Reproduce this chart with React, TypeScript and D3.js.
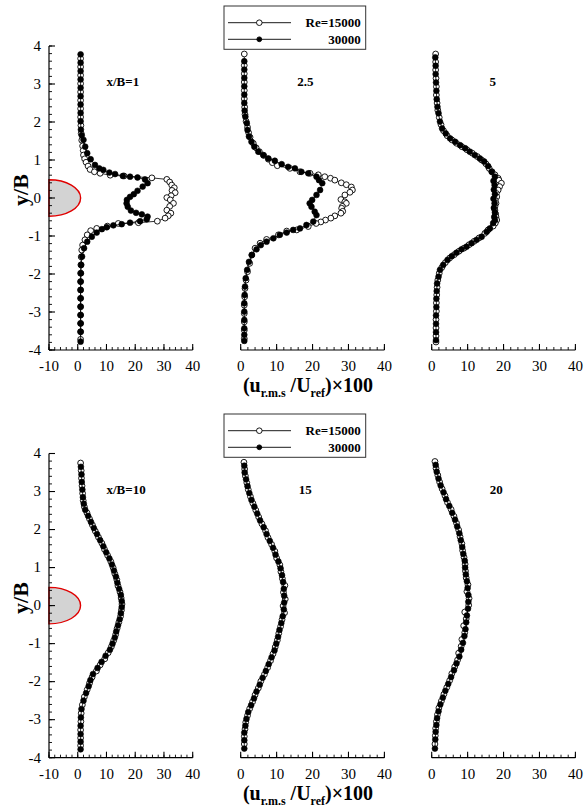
import React from "react";
import * as d3 from "d3";

type Pt = [number, number]; // [y/B, (u_rms/U_ref)x100]

// ---------- x/B = 1 ----------
const re15000_xB1: Pt[] = [
  [3.67, 1.0], [3.45, 1.0], [3.23, 1.0], [3.01, 1.0], [2.79, 1.0], [2.57, 1.0], [2.35, 1.0], [2.13, 1.0],
  [1.91, 1.1], [1.70, 1.2], [1.52, 1.4], [1.37, 1.7], [1.25, 1.9], [1.13, 2.0], [1.03, 2.4], [0.94, 2.9],
  [0.84, 3.6], [0.75, 4.3], [0.69, 5.8], [0.65, 7.8], [0.60, 11.3], [0.58, 16.1], [0.53, 25.8], [0.49, 31.0],
  [0.42, 32.0], [0.34, 32.7], [0.27, 33.6], [0.20, 32.8], [0.14, 33.9], [0.06, 32.5], [0.01, 31.0], [-0.05, 32.2],
  [-0.14, 33.3], [-0.22, 32.0], [-0.32, 31.0], [-0.40, 32.4], [-0.47, 31.5], [-0.53, 30.4], [-0.61, 27.7],
  [-0.65, 21.1], [-0.67, 14.1], [-0.74, 10.3], [-0.80, 6.6], [-0.86, 4.5], [-0.97, 3.3], [-1.10, 2.5],
  [-1.24, 1.7], [-1.37, 1.4], [-1.55, 1.2], [-1.76, 1.1], [-1.98, 1.0], [-2.20, 1.0], [-2.42, 1.0],
  [-2.64, 1.0], [-2.86, 1.0], [-3.08, 1.0], [-3.30, 1.0], [-3.52, 1.0], [-3.72, 1.0],
];
const re30000_xB1: Pt[] = [
  [3.78, 1.0], [3.56, 1.0], [3.34, 1.0], [3.12, 1.0], [2.90, 1.0], [2.68, 1.0], [2.46, 1.0], [2.24, 1.0],
  [2.02, 1.0], [1.80, 1.1], [1.65, 1.4], [1.53, 2.0], [1.35, 2.6], [1.18, 3.3], [1.02, 4.5], [0.87, 6.0],
  [0.78, 7.5], [0.74, 8.9], [0.67, 11.0], [0.63, 13.0], [0.58, 15.7], [0.56, 18.2], [0.54, 20.8], [0.49, 23.4],
  [0.39, 24.3], [0.30, 22.6], [0.19, 20.8], [0.10, 19.5], [0.03, 18.2], [-0.05, 17.1], [-0.14, 17.0],
  [-0.23, 17.4], [-0.33, 18.5], [-0.39, 20.3], [-0.43, 22.3], [-0.49, 24.3], [-0.56, 24.0], [-0.61, 21.7],
  [-0.65, 18.2], [-0.69, 15.3], [-0.72, 12.4], [-0.77, 10.1], [-0.82, 8.4], [-0.91, 6.6], [-1.02, 4.9],
  [-1.15, 3.3], [-1.32, 2.2], [-1.54, 1.5], [-1.76, 1.2], [-1.98, 1.1], [-2.20, 1.0], [-2.42, 1.0],
  [-2.64, 1.0], [-2.86, 1.0], [-3.08, 1.0], [-3.30, 1.0], [-3.52, 1.0], [-3.78, 1.0],
];

// ---------- x/B = 2.5 ----------
const re15000_xB2_5: Pt[] = [
  [3.79, 1.0], [3.49, 1.0], [3.27, 1.0], [3.05, 1.0], [2.83, 1.0], [2.61, 1.0], [2.39, 1.1], [2.20, 1.2],
  [2.02, 1.5], [1.86, 1.9], [1.72, 2.2], [1.60, 2.6], [1.44, 3.5], [1.32, 4.3], [1.22, 5.2], [1.12, 6.4],
  [1.02, 7.7], [0.93, 8.8], [0.85, 10.2], [0.78, 13.7], [0.69, 16.5], [0.65, 19.3], [0.61, 21.6], [0.56, 23.4],
  [0.52, 25.0], [0.47, 26.2], [0.40, 28.0], [0.35, 29.4], [0.29, 30.8], [0.21, 31.1], [0.15, 30.4], [0.08, 29.0],
  [-0.04, 27.9], [-0.10, 29.0], [-0.14, 29.4], [-0.22, 28.3], [-0.27, 28.1], [-0.35, 28.4], [-0.40, 27.9],
  [-0.47, 26.2], [-0.53, 25.1], [-0.58, 23.6], [-0.63, 22.3], [-0.67, 21.0], [-0.75, 18.8], [-0.84, 15.6],
  [-0.87, 12.8], [-0.97, 10.5], [-1.09, 7.2], [-1.19, 5.4], [-1.32, 4.0], [-1.50, 3.1], [-1.72, 2.5],
  [-1.94, 1.9], [-2.16, 1.5], [-2.38, 1.2], [-2.60, 1.1], [-2.82, 1.0], [-3.04, 1.0], [-3.26, 1.0],
  [-3.48, 1.0], [-3.70, 1.0],
];
const re30000_xB2_5: Pt[] = [
  [3.60, 1.0], [3.38, 1.0], [3.16, 1.0], [2.94, 1.0], [2.72, 1.0], [2.50, 1.0], [2.30, 1.1], [2.14, 1.3],
  [1.97, 1.7], [1.79, 1.9], [1.62, 2.3], [1.48, 3.0], [1.35, 3.8], [1.22, 4.9], [1.13, 6.3], [1.04, 7.7],
  [0.98, 9.5], [0.89, 11.4], [0.82, 13.2], [0.78, 15.1], [0.69, 16.9], [0.65, 18.8], [0.56, 21.1], [0.47, 21.8],
  [0.39, 22.7], [0.21, 22.1], [0.08, 21.1], [-0.05, 19.9], [-0.14, 19.2], [-0.23, 19.7], [-0.36, 20.6],
  [-0.45, 21.1], [-0.62, 20.2], [-0.71, 18.3], [-0.80, 16.5], [-0.84, 14.6], [-0.91, 12.8], [-0.97, 10.9],
  [-1.06, 9.1], [-1.15, 7.2], [-1.24, 5.6], [-1.35, 4.4], [-1.50, 3.1], [-1.68, 2.3], [-1.89, 1.8],
  [-2.11, 1.4], [-2.33, 1.2], [-2.55, 1.1], [-2.77, 1.0], [-2.99, 1.0], [-3.21, 1.0], [-3.43, 1.0],
  [-3.60, 1.0], [-3.76, 1.0],
];

// ---------- x/B = 5 ----------
const re15000_xB5: Pt[] = [
  [3.79, 1.1], [3.58, 1.1], [3.37, 1.1], [3.15, 1.2], [2.93, 1.3], [2.71, 1.3], [2.50, 1.5], [2.31, 1.7],
  [2.12, 2.1], [1.93, 2.6], [1.77, 3.3], [1.64, 4.3], [1.53, 5.6], [1.44, 6.9], [1.35, 8.4], [1.27, 9.8],
  [1.18, 11.3], [1.09, 12.7], [1.00, 13.9], [0.90, 15.1], [0.78, 16.0], [0.69, 16.8], [0.61, 17.6], [0.52, 18.5],
  [0.47, 18.7], [0.39, 19.4], [0.30, 18.9], [0.21, 18.5], [0.12, 18.0], [0.03, 18.1], [-0.06, 17.7],
  [-0.14, 17.9], [-0.23, 17.6], [-0.32, 17.6], [-0.42, 17.8], [-0.50, 17.9], [-0.58, 18.1], [-0.66, 17.7],
  [-0.74, 17.1], [-0.84, 15.7], [-0.93, 14.8], [-1.05, 13.2], [-1.14, 11.8], [-1.23, 10.4], [-1.32, 9.0],
  [-1.40, 7.6], [-1.49, 6.3], [-1.58, 5.0], [-1.70, 3.8], [-1.83, 2.8], [-1.98, 2.1], [-2.16, 1.7],
  [-2.35, 1.5], [-2.55, 1.4], [-2.76, 1.3], [-2.98, 1.3], [-3.20, 1.2], [-3.42, 1.2], [-3.63, 1.2], [-3.79, 1.2],
];
const re30000_xB5: Pt[] = [
  [3.70, 1.0], [3.48, 1.1], [3.26, 1.1], [3.04, 1.2], [2.82, 1.3], [2.60, 1.4], [2.40, 1.6], [2.23, 1.9],
  [2.01, 2.3], [1.83, 2.9], [1.70, 3.9], [1.57, 5.1], [1.48, 6.5], [1.39, 7.9], [1.31, 9.3], [1.22, 10.6],
  [1.13, 12.0], [1.04, 13.4], [0.96, 14.6], [0.84, 15.7], [0.69, 16.7], [0.56, 17.6], [0.45, 17.2],
  [0.34, 17.5], [0.22, 17.3], [0.10, 17.6], [-0.02, 17.2], [-0.14, 17.5], [-0.26, 17.3], [-0.38, 17.6],
  [-0.50, 17.4], [-0.58, 17.6], [-0.66, 17.1], [-0.80, 16.2], [-0.89, 15.3], [-1.02, 13.9], [-1.10, 12.5],
  [-1.19, 11.1], [-1.28, 9.7], [-1.35, 8.3], [-1.44, 6.9], [-1.53, 5.6], [-1.63, 4.4], [-1.76, 3.2],
  [-1.89, 2.3], [-2.07, 1.9], [-2.25, 1.5], [-2.45, 1.4], [-2.65, 1.3], [-2.87, 1.3], [-3.09, 1.2],
  [-3.31, 1.2], [-3.53, 1.2], [-3.74, 1.2],
];

// ---------- x/B = 10 ----------
const re15000_xB10: Pt[] = [
  [3.75, 1.0], [3.55, 1.2], [3.35, 1.3], [3.15, 1.5], [2.95, 1.7], [2.76, 1.9], [2.60, 2.3], [2.44, 3.2],
  [2.28, 4.1], [2.12, 5.1], [1.96, 6.1], [1.80, 7.2], [1.64, 8.4], [1.48, 9.3], [1.32, 10.4], [1.16, 11.5],
  [1.00, 12.3], [0.84, 12.9], [0.68, 13.6], [0.52, 14.0], [0.36, 14.7], [0.20, 15.1], [0.04, 15.4],
  [-0.12, 15.2], [-0.28, 14.9], [-0.44, 14.3], [-0.60, 13.7], [-0.76, 13.2], [-0.92, 12.5], [-1.08, 11.7],
  [-1.24, 10.6], [-1.40, 9.4], [-1.56, 7.8], [-1.72, 6.5], [-1.88, 5.0], [-2.04, 4.1], [-2.21, 3.3],
  [-2.40, 2.3], [-2.61, 1.6], [-2.83, 1.2], [-3.05, 1.1], [-3.27, 1.0], [-3.48, 1.0], [-3.68, 1.0],
];
const re30000_xB10: Pt[] = [
  [3.65, 1.1], [3.45, 1.3], [3.25, 1.4], [3.05, 1.6], [2.85, 1.8], [2.68, 2.1], [2.52, 2.6], [2.36, 3.6],
  [2.20, 4.6], [2.04, 5.6], [1.88, 6.7], [1.72, 7.8], [1.56, 8.9], [1.40, 9.9], [1.24, 11.0], [1.08, 11.9],
  [0.92, 12.6], [0.76, 13.3], [0.60, 13.8], [0.44, 14.4], [0.28, 15.0], [0.12, 15.3], [-0.04, 15.3],
  [-0.20, 15.0], [-0.36, 14.6], [-0.52, 14.0], [-0.68, 13.4], [-0.84, 12.9], [-1.00, 12.1], [-1.16, 11.2],
  [-1.32, 9.7], [-1.48, 8.3], [-1.64, 6.9], [-1.80, 5.3], [-1.96, 4.4], [-2.12, 3.8], [-2.30, 2.9],
  [-2.50, 2.0], [-2.72, 1.3], [-2.94, 1.1], [-3.16, 1.0], [-3.38, 1.0], [-3.58, 1.0], [-3.78, 1.0],
];

// ---------- x/B = 15 ----------
const re15000_xB15: Pt[] = [
  [3.77, 0.9], [3.59, 1.1], [3.41, 1.3], [3.23, 1.7], [3.05, 2.1], [2.87, 2.7], [2.69, 3.4], [2.51, 4.2],
  [2.33, 5.0], [2.15, 5.9], [1.97, 6.9], [1.79, 7.6], [1.61, 8.6], [1.43, 9.5], [1.25, 10.0], [1.07, 10.9],
  [0.89, 11.2], [0.71, 11.6], [0.53, 12.3], [0.35, 11.9], [0.17, 12.4], [-0.01, 11.8], [-0.19, 12.2],
  [-0.37, 11.5], [-0.55, 11.1], [-0.73, 10.6], [-0.91, 10.2], [-1.09, 9.6], [-1.27, 9.0], [-1.45, 8.3],
  [-1.63, 7.5], [-1.81, 6.6], [-1.99, 5.6], [-2.17, 4.9], [-2.35, 4.0], [-2.53, 3.3], [-2.71, 2.5],
  [-2.89, 1.9], [-3.07, 1.4], [-3.25, 1.2], [-3.44, 1.0], [-3.64, 1.0],
];
const re30000_xB15: Pt[] = [
  [3.68, 1.0], [3.50, 1.1], [3.32, 1.5], [3.14, 1.9], [2.96, 2.4], [2.78, 3.0], [2.60, 3.8], [2.42, 4.6],
  [2.24, 5.4], [2.06, 6.4], [1.88, 7.2], [1.70, 8.1], [1.52, 9.0], [1.34, 9.7], [1.16, 10.5], [0.98, 11.1],
  [0.80, 11.5], [0.62, 11.8], [0.44, 12.0], [0.26, 12.1], [0.08, 12.1], [-0.10, 12.0], [-0.28, 11.7],
  [-0.46, 11.3], [-0.64, 10.8], [-0.82, 10.4], [-1.00, 9.9], [-1.18, 9.4], [-1.36, 8.6], [-1.54, 7.8],
  [-1.72, 7.0], [-1.90, 6.1], [-2.08, 5.3], [-2.26, 4.4], [-2.44, 3.7], [-2.62, 2.9], [-2.80, 2.1],
  [-2.98, 1.6], [-3.16, 1.3], [-3.34, 1.0], [-3.54, 1.0], [-3.76, 1.0],
];

// ---------- x/B = 20 ----------
const re15000_xB20: Pt[] = [
  [3.79, 0.9], [3.61, 1.2], [3.43, 1.7], [3.25, 2.2], [3.07, 2.9], [2.89, 3.7], [2.71, 4.4], [2.53, 5.4],
  [2.35, 6.2], [2.17, 6.9], [1.99, 7.5], [1.81, 7.9], [1.63, 8.4], [1.45, 8.6], [1.27, 9.0], [1.09, 9.3],
  [0.91, 9.4], [0.73, 9.6], [0.55, 10.1], [0.37, 9.8], [0.19, 10.4], [0.01, 10.3], [-0.17, 9.2],
  [-0.35, 9.6], [-0.53, 8.9], [-0.71, 9.2], [-0.89, 8.4], [-1.07, 8.2], [-1.25, 7.5], [-1.43, 7.2],
  [-1.61, 6.4], [-1.79, 5.6], [-1.97, 5.0], [-2.15, 4.2], [-2.33, 3.4], [-2.51, 2.7], [-2.69, 2.0],
  [-2.87, 1.6], [-3.05, 1.3], [-3.23, 1.1], [-3.42, 1.0], [-3.64, 0.9],
];
const re30000_xB20: Pt[] = [
  [3.70, 1.1], [3.52, 1.4], [3.34, 1.9], [3.16, 2.5], [2.98, 3.3], [2.80, 4.0], [2.62, 4.9], [2.44, 5.7],
  [2.26, 6.5], [2.08, 7.1], [1.90, 7.7], [1.72, 8.1], [1.54, 8.5], [1.36, 8.8], [1.18, 9.2], [1.00, 9.3],
  [0.82, 9.5], [0.64, 9.8], [0.46, 10.0], [0.28, 10.2], [0.10, 10.2], [-0.08, 10.1], [-0.26, 9.8],
  [-0.44, 9.6], [-0.62, 9.4], [-0.80, 9.1], [-0.98, 8.7], [-1.16, 8.2], [-1.34, 7.7], [-1.52, 6.9],
  [-1.70, 6.2], [-1.88, 5.4], [-2.06, 4.6], [-2.24, 3.8], [-2.42, 3.1], [-2.60, 2.4], [-2.78, 1.9],
  [-2.96, 1.5], [-3.14, 1.3], [-3.32, 1.1], [-3.52, 1.0], [-3.76, 0.9],
];

// ---------- axes / labels ----------
const yTicks = [-4, -3, -2, -1, 0, 1, 2, 3, 4];
const xTicksFirst = [-10, 0, 10, 20, 30, 40];
const xTicksOther = [0, 10, 20, 30, 40];
const panelLabels = ["x/B=1", "2.5", "5", "x/B=10", "15", "20"];
const legendLabels = ["Re=15000", "30000"];
const cylinderHalfHeight = 0.48; // in y/B
const cylinderDepth = 11; // in x units from the axis

const FONT = '"Liberation Serif", "Times New Roman", Times, "DejaVu Serif", serif';
const PW = 143.7;
const colLeft = [49, 240.7, 431.7];
const rows = [
  { top: 46, bottom: 350 },
  { top: 453.5, bottom: 757.7 },
];

type PanelProps = {
  left: number;
  top: number;
  bottom: number;
  domain: [number, number];
  ticks: number[];
  showY: boolean;
  open: Pt[];
  filled: Pt[];
  label: string;
  labelPos: number;
  labelAnchor: "start" | "middle";
};

const txt = (size: number, bold = false): React.CSSProperties => ({
  fontFamily: FONT,
  fontSize: size,
  fontWeight: bold ? 700 : 400,
});

function Panel(p: PanelProps) {
  const x = d3.scaleLinear().domain(p.domain).range([p.left, p.left + PW]);
  const y = d3.scaleLinear().domain([-4, 4]).range([p.bottom, p.top]);
  const line = d3
    .line<Pt>()
    .x((d) => x(d[1]))
    .y((d) => y(d[0]));
  const xMinor = d3.range(p.domain[0], p.domain[1] + 0.001, 2);
  const yMinor = d3.range(-4, 4.001, 0.2);
  const r = 2.9;
  const x0 = x(p.domain[0]);
  return (
    <g>
      {p.showY && (
        <g>
          <path
            d={`M${x0},${y(cylinderHalfHeight)} A${x(p.domain[0] + cylinderDepth) - x0},${
              y(0) - y(cylinderHalfHeight)
            } 0 0 1 ${x0},${y(-cylinderHalfHeight)} Z`}
            fill="#d3d3d3"
            stroke="#e00000"
            strokeWidth={1.4}
          />
          <line x1={x0} x2={x0} y1={p.top} y2={p.bottom} stroke="#000" strokeWidth={1.2} />
          {yMinor.map((v, i) => (
            <line key={"ym" + i} x1={x0} x2={x0 + 3} y1={y(v)} y2={y(v)} stroke="#000" strokeWidth={0.9} />
          ))}
          {yTicks.map((v) => (
            <g key={"yt" + v}>
              <line x1={x0} x2={x0 + 6} y1={y(v)} y2={y(v)} stroke="#000" strokeWidth={1.1} />
              <text x={x0 - 8} y={y(v) + 4.8} textAnchor="end" style={txt(15)}>
                {v}
              </text>
            </g>
          ))}
        </g>
      )}
      {/* x axis */}
      <line x1={x(p.domain[0])} x2={x(p.domain[1])} y1={p.bottom} y2={p.bottom} stroke="#000" strokeWidth={1.2} />
      {xMinor.map((v, i) => (
        <line key={"xm" + i} x1={x(v)} x2={x(v)} y1={p.bottom} y2={p.bottom - 3} stroke="#000" strokeWidth={0.9} />
      ))}
      {p.ticks.map((v) => (
        <g key={"xt" + v}>
          <line x1={x(v)} x2={x(v)} y1={p.bottom} y2={p.bottom - 6} stroke="#000" strokeWidth={1.1} />
          <text x={x(v)} y={p.bottom + 21} textAnchor="middle" style={txt(15)}>
            {v}
          </text>
        </g>
      ))}
      {/* series */}
      <path d={line(p.open) || ""} fill="none" stroke="#000" strokeWidth={0.8} />
      {p.open.map((d, i) => (
        <circle key={"o" + i} cx={x(d[1])} cy={y(d[0])} r={r} fill="#fff" stroke="#000" strokeWidth={0.9} />
      ))}
      <path d={line(p.filled) || ""} fill="none" stroke="#000" strokeWidth={0.8} />
      {p.filled.map((d, i) => (
        <circle key={"f" + i} cx={x(d[1])} cy={y(d[0])} r={r} fill="#000" stroke="#000" strokeWidth={0.6} />
      ))}
      <text x={x(p.labelPos)} y={p.top + 40} textAnchor={p.labelAnchor} style={txt(13, true)}>
        {p.label}
      </text>
    </g>
  );
}

function Legend({ top }: { top: number }) {
  const rowsY = [top + 16.7, top + 33.3];
  return (
    <g>
      <rect x={224} y={top} width={141.7} height={43.3} fill="#fff" stroke="#333" strokeWidth={1} />
      {legendLabels.map((lab, i) => (
        <g key={lab}>
          <line x1={228} x2={291} y1={rowsY[i]} y2={rowsY[i]} stroke="#000" strokeWidth={0.9} />
          <circle
            cx={259.3}
            cy={rowsY[i]}
            r={i === 0 ? 2.8 : 2.4}
            fill={i === 0 ? "#fff" : "#000"}
            stroke="#000"
            strokeWidth={0.9}
          />
          <text x={360.7} y={rowsY[i] + 4.5} textAnchor="end" style={txt(13, true)}>
            {lab}
          </text>
        </g>
      ))}
    </g>
  );
}

function XTitle({ y }: { y: number }) {
  return (
    <text x={308} y={y} textAnchor="middle" style={txt(20, true)}>
      (u
      <tspan style={{ fontSize: 12 }} dy={5}>r.m.s</tspan>
      <tspan dy={-5}> /U</tspan>
      <tspan style={{ fontSize: 12 }} dy={5}>ref</tspan>
      <tspan dy={-5}>)×100</tspan>
    </text>
  );
}

function YTitle({ cy }: { cy: number }) {
  return (
    <text transform={`translate(28,${cy}) rotate(-90)`} textAnchor="middle" style={txt(22, true)}>
      y/B
    </text>
  );
}

export default function App() {
  const series: [Pt[], Pt[]][] = [
    [re15000_xB1, re30000_xB1],
    [re15000_xB2_5, re30000_xB2_5],
    [re15000_xB5, re30000_xB5],
    [re15000_xB10, re30000_xB10],
    [re15000_xB15, re30000_xB15],
    [re15000_xB20, re30000_xB20],
  ];
  const labelPos = [10, 18, 17, 10, 18, 18];
  return (
    <svg width={587} height={810} style={{ position: "absolute", left: 0, top: 0, background: "#fff" }}>
      <rect width={587} height={810} fill="#fff" />
      {series.map(([open, filled], i) => {
        const row = rows[Math.floor(i / 3)];
        const col = i % 3;
        return (
          <Panel
            key={i}
            left={colLeft[col]}
            top={row.top}
            bottom={row.bottom}
            domain={col === 0 ? [-10, 40] : [0, 40]}
            ticks={col === 0 ? xTicksFirst : xTicksOther}
            showY={col === 0}
            open={open}
            filled={filled}
            label={panelLabels[i]}
            labelPos={labelPos[i]}
            labelAnchor={col === 0 ? "start" : "middle"}
          />
        );
      })}
      <Legend top={6} />
      <Legend top={414} />
      <XTitle y={392} />
      <XTitle y={800} />
      <YTitle cy={190} />
      <YTitle cy={598} />
    </svg>
  );
}
